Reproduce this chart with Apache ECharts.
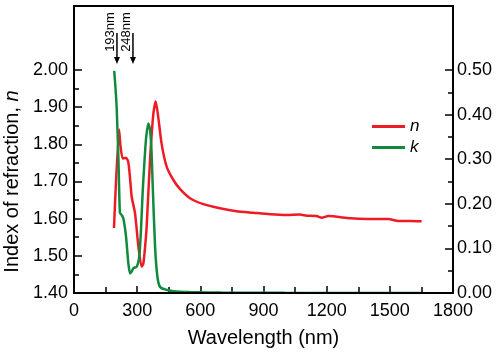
<!DOCTYPE html>
<html>
<head>
<meta charset="utf-8">
<script src="https://cdn.jsdelivr.net/npm/echarts@6/dist/echarts.min.js"></script>
<style>
  html, body { margin: 0; padding: 0; background: #fff; }
  #main { width: 498px; height: 354px; }
</style>
</head>
<body>
<div id="main"></div>
<script>
// refractive index n (left axis)
var nWl  = [190, 214, 220, 231, 247, 258, 266, 274, 290, 306, 321, 329, 337, 345, 361, 377, 388, 400, 416, 440, 472, 503, 551, 614, 693, 772, 851, 931, 1010, 1073, 1105, 1152, 1176, 1208, 1311, 1390, 1493, 1540, 1595, 1651];
var nVal = [1.575, 1.840, 1.800, 1.762, 1.764, 1.752, 1.710, 1.659, 1.614, 1.524, 1.471, 1.478, 1.520, 1.578, 1.758, 1.883, 1.916, 1.874, 1.802, 1.740, 1.704, 1.680, 1.655, 1.639, 1.628, 1.620, 1.616, 1.612, 1.610, 1.611, 1.608, 1.607, 1.6025, 1.607, 1.601, 1.599, 1.599, 1.5935, 1.594, 1.593];

// extinction coefficient k (right axis)
var kWl  = [191, 197, 203, 211, 218, 226, 234, 247, 258, 266, 274, 282, 298, 310, 318, 326, 334, 342, 353, 361, 368, 374, 385, 396, 408, 432, 472, 550, 700, 1000, 1651];
var kVal = [0.498, 0.460, 0.412, 0.300, 0.180, 0.175, 0.168, 0.127, 0.067, 0.044, 0.048, 0.056, 0.059, 0.082, 0.140, 0.225, 0.290, 0.345, 0.380, 0.367, 0.320, 0.239, 0.104, 0.037, 0.014, 0.008, 0.004, 0.002, 0.001, 0.0005, 0.0];

// laser wavelength markers (placed where drawn in the figure)
var markX     = [204, 280];
var markLabel = ['193nm', '248nm'];

function pairs(xs, ys) {
  return xs.map(function (x, i) { return [x, ys[i]]; });
}

var font = 'Liberation Sans, Arial, sans-serif';
var chart = echarts.init(document.getElementById('main'));

var option = {
  animation: false,
  grid: { left: 74, right: 45, top: 70, bottom: 61, containLabel: false, outerBoundsMode: 'none' },
  legend: {
    orient: 'vertical',
    left: 367,
    top: 113,
    itemWidth: 33,
    itemHeight: 3,
    itemGap: 4,
    icon: 'rect',
    textStyle: { fontFamily: font, fontSize: 17, fontStyle: 'italic', color: '#000', lineHeight: 14 },
    data: ['n', 'k']
  },
  xAxis: {
    type: 'value',
    min: 0, max: 1800, interval: 300,
    name: 'Wavelength (nm)',
    nameLocation: 'middle',
    nameGap: 35,
    nameTextStyle: { fontFamily: font, fontSize: 20, color: '#000' },
    axisLine: { lineStyle: { color: '#000', width: 2 } },
    axisTick: { inside: true, length: 7, lineStyle: { color: '#000', width: 1.5 } },
    minorTick: { show: true, splitNumber: 2, length: 6, lineStyle: { color: '#000', width: 1.5 } },
    axisLabel: { fontFamily: font, fontSize: 18, color: '#000', margin: 9,
      formatter: function (v) { return String(v); } },
    splitLine: { show: false }
  },
  yAxis: [{
    type: 'value',
    min: 1.4, max: 2.0, interval: 0.1,
    name: 'Index of refraction, {i|n}',
    nameLocation: 'middle',
    nameGap: 52,
    nameTextStyle: {
      fontFamily: font, fontSize: 20, color: '#000',
      rich: { i: { fontFamily: font, fontSize: 20, fontStyle: 'italic', color: '#000' } }
    },
    axisLine: { show: true, lineStyle: { color: '#000', width: 2 } },
    axisTick: { inside: true, length: 8, lineStyle: { color: '#000', width: 1.5 } },
    minorTick: { show: true, splitNumber: 2, length: 5, lineStyle: { color: '#000', width: 1.5 } },
    axisLabel: { fontFamily: font, fontSize: 18, color: '#000', margin: 6,
      formatter: function (v) { return v.toFixed(2); } },
    splitLine: { show: false }
  }, {
    type: 'value',
    position: 'right',
    min: 0, max: 0.5, interval: 0.1,
    axisLine: { show: true, lineStyle: { color: '#000', width: 2 } },
    axisTick: { inside: true, length: 8, lineStyle: { color: '#000', width: 1.5 } },
    minorTick: { show: true, splitNumber: 2, length: 5, lineStyle: { color: '#000', width: 1.5 } },
    axisLabel: { fontFamily: font, fontSize: 18, color: '#000', margin: 4,
      formatter: function (v) { return v.toFixed(2); } },
    splitLine: { show: false }
  }],
  series: [{
    name: 'n',
    type: 'line',
    yAxisIndex: 0,
    data: pairs(nWl, nVal),
    showSymbol: false,
    smooth: 0.2,
    color: '#ed1c24',
    lineStyle: { width: 2.5, color: '#ed1c24' }
  }, {
    name: 'k',
    type: 'line',
    yAxisIndex: 1,
    data: pairs(kWl, kVal),
    showSymbol: false,
    smooth: 0.2,
    color: '#128a3e',
    lineStyle: { width: 2.5, color: '#128a3e' }
  }]
};
chart.setOption(option);

// frame around plot (extends above labelled range) and wavelength arrows
var x0 = chart.convertToPixel({ xAxisIndex: 0 }, 0);
var x1 = chart.convertToPixel({ xAxisIndex: 0 }, 1800);
var yb = chart.convertToPixel({ yAxisIndex: 0 }, 1.4);
var frameTop = 6;
var elems = [{
  type: 'rect',
  shape: { x: x0, y: frameTop, width: x1 - x0, height: yb - frameTop },
  style: { fill: 'none', stroke: '#000', lineWidth: 2 },
  z: 10
}];
markX.forEach(function (wl, i) {
  var px = chart.convertToPixel({ xAxisIndex: 0 }, wl);
  elems.push({
    type: 'line',
    shape: { x1: px, y1: 33, x2: px, y2: 59 },
    style: { stroke: '#000', lineWidth: 1.5 },
    z: 10
  });
  elems.push({
    type: 'polygon',
    shape: { points: [[px - 3, 57], [px + 3, 57], [px, 64]] },
    style: { fill: '#000' },
    z: 10
  });
  elems.push({
    type: 'text',
    x: px - 7, y: 32,
    rotation: Math.PI / 2,
    style: { text: markLabel[i], fontFamily: font, fontSize: 13, fill: '#000', align: 'center', verticalAlign: 'middle' },
    z: 10
  });
});
chart.setOption({ graphic: elems });
</script>
</body>
</html>
